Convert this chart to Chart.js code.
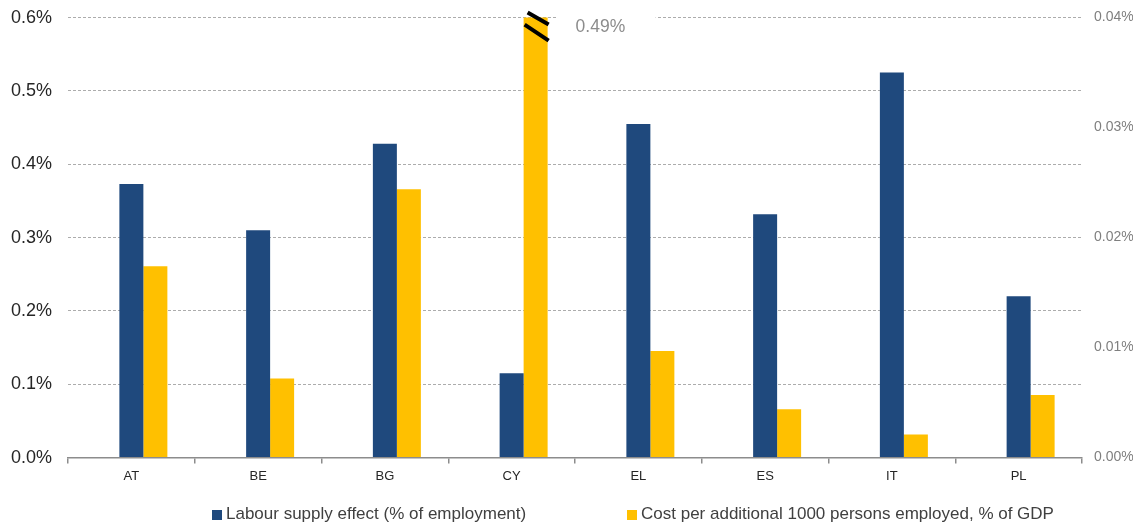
<!DOCTYPE html>
<html>
<head>
<meta charset="utf-8">
<script src="https://cdn.jsdelivr.net/npm/chart.js@4.4.1/dist/chart.umd.min.js"></script>
<style>
  html, body { margin: 0; padding: 0; background: #fff; }
  #wrap { position: relative; width: 1142px; height: 528px; }
  #legend { position: absolute; left: 0; top: 503px; width: 1142px; height: 22px;
            font-family: "Liberation Sans", Arial, sans-serif; font-size: 17px; color: #404040; }
  .item { position: absolute; top: 0; line-height: 22px; white-space: nowrap; }
  .box { display: inline-block; width: 10px; height: 10px; margin-right: 4px; vertical-align: -1px; }
</style>
</head>
<body>
<div id="wrap">
  <canvas id="myChart" width="1142" height="528"></canvas>
  <div id="legend"></div>
</div>
<script>
const countries = ['AT', 'BE', 'BG', 'CY', 'EL', 'ES', 'IT', 'PL'];
// left axis, % of employment
const labourSupply = [0.373, 0.310, 0.428, 0.115, 0.455, 0.332, 0.525, 0.220];
// right axis, % of GDP (CY runs off the scale, labelled)
const costPer1000 = [0.0174, 0.0072, 0.0244, 0.49, 0.0097, 0.0044, 0.0021, 0.0057];
const leftTickLabels = ['0.0%', '0.1%', '0.2%', '0.3%', '0.4%', '0.5%', '0.6%'];
const rightTickLabels = ['0.00%', '0.01%', '0.02%', '0.03%', '0.04%'];

const FONT = '"Liberation Sans", Arial, sans-serif';
const BLUE = '#1F497D';
const YELLOW = '#FFC000';

// break symbol + value label on the clipped CY bar
const breakMark = {
  id: 'breakMark',
  afterDatasetsDraw(chart) {
    const bar = chart.getDatasetMeta(2).data[3];
    const top = chart.chartArea.top;
    const l = bar.x - bar.width / 2;
    const r = bar.x + bar.width / 2;
    const ctx = chart.ctx;
    ctx.save();
    ctx.fillStyle = '#fff';
    ctx.fillRect(r + 9, top - 4, 99, 8);
    ctx.fillStyle = '#8c8c8c';
    ctx.font = '17.5px ' + FONT;
    ctx.textBaseline = 'alphabetic';
    ctx.fillText(costPer1000[3].toFixed(2) + '%', r + 28, top + 14);
    ctx.strokeStyle = '#000';
    ctx.lineWidth = 4;
    ctx.beginPath();
    ctx.moveTo(l + 4, top - 5);
    ctx.lineTo(r + 1, top + 7);
    ctx.moveTo(l + 1, top + 7);
    ctx.lineTo(r + 1, top + 23);
    ctx.stroke();
    ctx.restore();
  }
};

const ctx = document.getElementById('myChart');

const chart = new Chart(ctx, {
  type: 'bar',
  data: {
    labels: countries,
    datasets: [
      { label: '', data: [], yAxisID: 'y' }, // empty slot so blue sits on the category centre
      {
        label: 'Labour supply effect (% of employment)',
        data: labourSupply,
        backgroundColor: BLUE,
        yAxisID: 'y',
      },
      {
        label: 'Cost per additional 1000 persons employed, % of GDP',
        data: costPer1000,
        backgroundColor: YELLOW,
        yAxisID: 'y1',
      },
    ],
  },
  options: {
    responsive: false,
    animation: false,
    categoryPercentage: 0.568,
    barPercentage: 1,
    layout: { padding: { left: 11, right: 9, top: 17.6, bottom: 38.8 } },
    plugins: {
      legend: { display: false },
      tooltip: { enabled: false },
    },
    scales: {
      x: {
        offset: true,
        grid: {
          display: true,
          offset: true,
          drawOnChartArea: false,
          drawTicks: true,
          tickLength: 6,
          color: '#8c8c8c',
          lineWidth: 1.5,
        },
        border: { display: true, color: '#8c8c8c', width: 1.5 },
        ticks: { color: '#262626', font: { family: FONT, size: 13 }, padding: 5 },
      },
      y: {
        position: 'left',
        min: 0,
        max: 0.6,
        afterFit: (scale) => { scale.width = 57; scale.paddingTop = 0; },
        ticks: {
          stepSize: 0.1,
          callback: (v, i) => leftTickLabels[i],
          color: '#262626',
          font: { family: FONT, size: 18 },
          padding: 16,
        },
        grid: {
          drawTicks: false,
          color: (c) => (c.tick && c.tick.value === 0 ? 'rgba(0,0,0,0)' : '#acacac'),
          lineWidth: 1,
        },
        border: { display: false, dash: [3, 2] },
      },
      y1: {
        position: 'right',
        min: 0,
        max: 0.04,
        afterFit: (scale) => { scale.width = 51; scale.paddingTop = 0; },
        ticks: {
          stepSize: 0.01,
          callback: (v, i) => rightTickLabels[i],
          color: '#7f7f7f',
          font: { family: FONT, size: 14 },
          padding: 12,
        },
        grid: { drawOnChartArea: false, drawTicks: false },
        border: { display: false },
      },
    },
  },
  plugins: [breakMark],
});

// legend from the two real series
const legend = document.getElementById('legend');
const lefts = [212, 627];
chart.data.datasets.slice(1).forEach((ds, i) => {
  const item = document.createElement('div');
  item.className = 'item';
  item.style.left = lefts[i] + 'px';
  item.innerHTML = '<span class="box" style="background:' + ds.backgroundColor + '"></span>' + ds.label;
  legend.appendChild(item);
});
</script>
</body>
</html>
